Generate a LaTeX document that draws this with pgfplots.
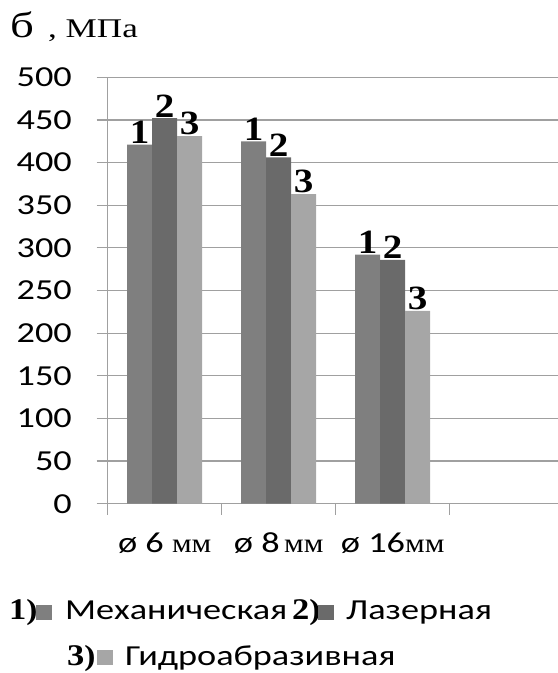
\documentclass[border=0pt]{standalone}
\usepackage{pgfplots}
\pgfplotsset{compat=1.18}
\usepackage{fontspec}
\setmainfont{Carlito}
\newfontfamily\tickf[FakeStretch=1.25]{Carlito}
\newfontfamily\serf[FakeStretch=1.3]{Liberation Serif}
\newfontfamily\barf[FakeStretch=1.15]{Liberation Serif}
\definecolor{cA}{HTML}{7F7F7F}
\definecolor{cB}{HTML}{6A6A6A}
\definecolor{cC}{HTML}{A6A6A6}
\definecolor{gridc}{HTML}{A0A0A0}
\newcommand{\TF}{\tickf\fontsize{29bp}{33bp}\selectfont}
\newcommand{\BF}{\barf\fontsize{34bp}{36bp}\selectfont\bfseries}
\newcommand{\LF}{\barf\fontsize{30bp}{32bp}\selectfont\bfseries}
\newcommand{\SF}{\barf\fontsize{27bp}{30bp}\selectfont}
\newcommand{\PF}{\barf\fontsize{29bp}{30bp}\selectfont}
\begin{document}
\begin{tikzpicture}
\useasboundingbox (0,0) rectangle (558bp,673bp);
\begin{axis}[
  at={(107.7bp,169.3bp)}, anchor=south west,
  scale only axis, width=450.3bp, height=426.4bp,
  xmin=-0.5, xmax=3.45, ymin=0, ymax=500,
  ybar=0pt, bar width=25bp,
  axis x line*=bottom, axis y line*=left,
  axis line style={-, draw=gridc, line width=1.2bp},
  ytick={0,50,...,500},
  ymajorgrids, grid style={draw=gridc, line width=1.2bp},
  xtick={-0.5,0.5,1.5,2.5}, xticklabels={},
  extra x ticks={0,1,2},
  extra x tick labels={{\TF ø 6 \SF мм},{\TF ø 8\SF\,мм},{\TF ø 16\SF мм}},
  extra x tick style={major tick length=0pt, xticklabel style={anchor=base, inner sep=0pt, yshift=-49.3bp}},
  tick align=outside, major tick length=11bp,
  tick style={draw=gridc, line width=1.2bp},
  yticklabel style={anchor=east, inner sep=0pt, xshift=-24.7bp, font=\TF},
  /pgf/number format/assume math mode=true,
  nodes near coords,
  every node near coord/.append style={font=\BF, inner sep=1bp, text=black, anchor=south},
]
\addplot[fill=cA, draw=none, nodes near coords={1}] coordinates {(0,421) (1,425) (2,292)};
\addplot[fill=cB, draw=none, nodes near coords={2}] coordinates {(0,452) (1,406) (2,286)};
\addplot[fill=cC, draw=none, nodes near coords={3}] coordinates {(0,431) (1,363) (2,226)};
\end{axis}
\node[anchor=base west, inner sep=0] at (10bp,635bp) {\serf\fontsize{36bp}{38bp}\selectfont б};
\node[anchor=base west, inner sep=0] at (48bp,635bp) {\serf\fontsize{27bp}{30bp}\selectfont , МПа};
% legend
\node[anchor=base west, inner sep=0] at (9bp,53bp) {\LF 1\PF)};
\node[anchor=base west, inner sep=0] at (36bp,53bp) {\textcolor{cA}{\rule{16bp}{15bp}}};
\node[anchor=base west, inner sep=0] at (65bp,53bp) {\TF Механическая};
\node[anchor=base west, inner sep=0] at (292bp,53bp) {\LF 2\PF)};
\node[anchor=base west, inner sep=0] at (318bp,53bp) {\textcolor{cB}{\rule{16bp}{15bp}}};
\node[anchor=base west, inner sep=0] at (346bp,53bp) {\TF Лазерная};
\node[anchor=base west, inner sep=0] at (67bp,8bp) {\LF 3\PF)};
\node[anchor=base west, inner sep=0] at (97bp,8bp) {\textcolor{cC}{\rule{16bp}{15bp}}};
\node[anchor=base west, inner sep=0] at (125bp,8bp) {\TF Гидроабразивная};
\end{tikzpicture}
\end{document}
